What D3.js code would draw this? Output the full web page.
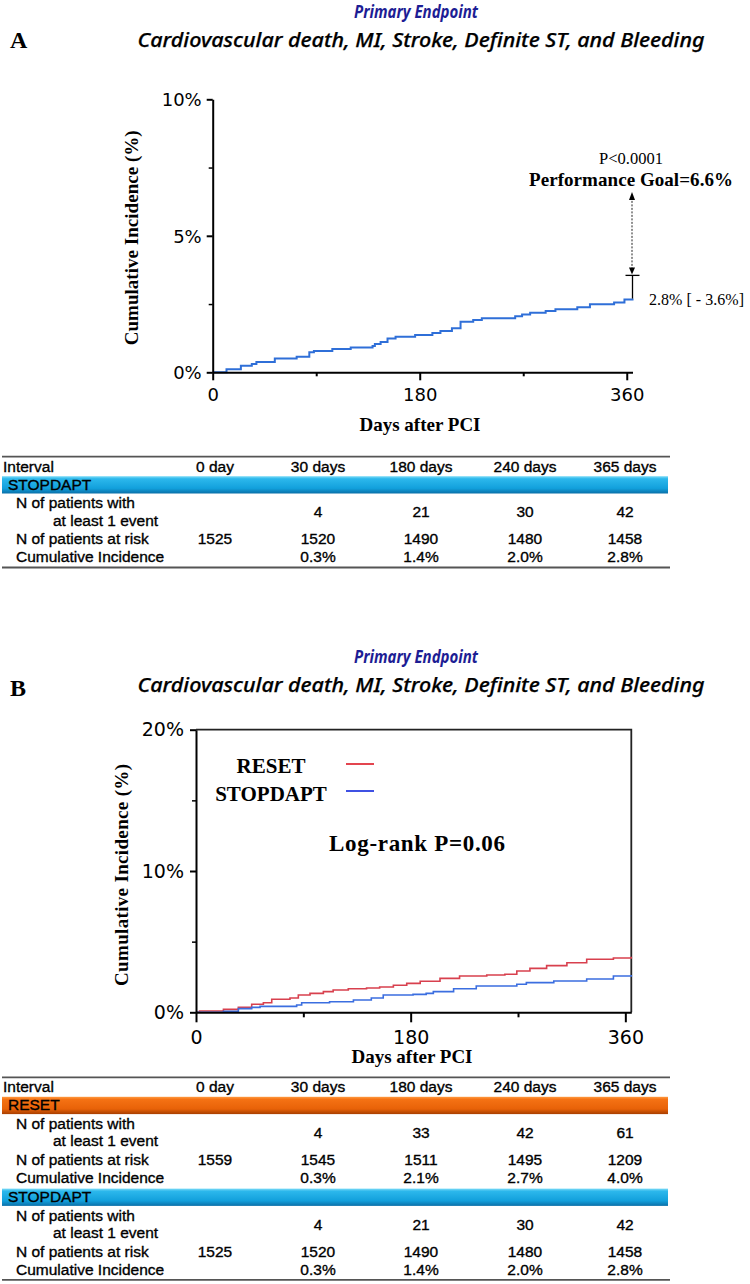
<!DOCTYPE html>
<html><head><meta charset="utf-8">
<script src="https://cdn.jsdelivr.net/npm/d3@7"></script>
<style>body{margin:0;background:#fff} svg{display:block}</style>
</head><body>
<svg id="c" width="750" height="1284" xmlns="http://www.w3.org/2000/svg"></svg>
<script>
// ---------- DATA ----------
const titleMain = "Primary Endpoint";
const titleSub = "Cardiovascular death, MI, Stroke, Definite ST, and Bleeding";

// Panel A: STOPDAPT cumulative incidence (step curve)
const daysA = [0, 12, 24.5, 34, 38, 54, 73, 84, 88, 104, 120, 139, 141, 146, 152, 159, 176, 191, 198, 208, 215.5, 226.5, 234, 263, 269, 276, 289.5, 298, 317, 328, 349, 358, 365];
const pctA  = [0, 0.11, 0.24, 0.30, 0.38, 0.51, 0.57, 0.73, 0.78, 0.85, 0.91, 0.96, 1.04, 1.11, 1.24, 1.30, 1.37, 1.44, 1.51, 1.61, 1.85, 1.92, 1.98, 2.05, 2.12, 2.18, 2.25, 2.31, 2.38, 2.49, 2.56, 2.67, 2.70];
const upperCI_A = 3.55;
const perfGoal = 6.6;

// Panel B: RESET vs STOPDAPT
const daysReset = [0, 3, 23, 35.5, 46.7, 56.5, 63.5, 78.8, 85.8, 95.6, 106.8, 115, 127.7, 143, 154, 165.5, 176.7, 188, 204.6, 221, 243.8, 259, 269, 280, 294, 311, 327.6, 350, 365];
const pctReset  = [0, 0.09, 0.21, 0.35, 0.57, 0.68, 0.92, 1.01, 1.22, 1.34, 1.46, 1.58, 1.67, 1.72, 1.79, 1.91, 2.05, 2.2, 2.4, 2.57, 2.64, 2.69, 2.92, 3.11, 3.3, 3.51, 3.75, 3.84, 3.94];
const daysStopB = [0, 23, 35.5, 46.7, 53.7, 84.4, 88.6, 112, 132, 147, 157, 182, 193, 199, 216, 235, 269, 277, 300, 327.6, 350, 365];
const pctStopB  = [0, 0.07, 0.26, 0.35, 0.42, 0.52, 0.68, 0.75, 0.87, 1.01, 1.22, 1.27, 1.34, 1.46, 1.67, 1.86, 1.98, 2.10, 2.21, 2.36, 2.57, 2.64];

const xTicks = [0, 180, 360];
const xMinorTicks = [90, 270];
const yTicksA = [0, 5, 10];
const yMinorA = [2.5, 7.5];
const yTicksB = [0, 10, 20];
const yMinorB = [5, 15];

// Tables
const tableCols = ["0 day", "30 days", "180 days", "240 days", "365 days"];
const rowLabels = ["N of patients with", "at least 1 event", "N of patients at risk", "Cumulative Incidence"];
const stopEvents = ["", "4", "21", "30", "42"];
const stopRisk   = ["1525", "1520", "1490", "1480", "1458"];
const stopCI     = ["", "0.3%", "1.4%", "2.0%", "2.8%"];
const resetEvents = ["", "4", "33", "42", "61"];
const resetRisk   = ["1559", "1545", "1511", "1495", "1209"];
const resetCI     = ["", "0.3%", "2.1%", "2.7%", "4.0%"];

// ---------- DRAW ----------
const svg = d3.select("#c");
const SERIF = "'Liberation Serif','Times New Roman',serif";
const SANS = "'Liberation Sans',Arial,sans-serif";
const TICKF = "'DejaVu Sans',Verdana,sans-serif";
const TITLEF = "'Noto Sans','Open Sans',sans-serif";

const defs = svg.append("defs");
function grad(id, stops) {
  const g = defs.append("linearGradient").attr("id", id).attr("x1", 0).attr("y1", 0).attr("x2", 0).attr("y2", 1);
  stops.forEach(s => g.append("stop").attr("offset", s[0]).attr("stop-color", s[1]));
}
grad("gBlue", [[0, "#7fdcf7"], [0.15, "#2cb8ec"], [0.7, "#12a0dc"], [1, "#0a6fa8"]]);
grad("gOrange", [[0, "#ff9a40"], [0.15, "#f57214"], [0.7, "#e86208"], [1, "#a83e00"]]);

function titles(yMain, ySub, letter, yLetter) {
  svg.append("text").attr("x", 416).attr("y", yMain).attr("text-anchor", "middle")
    .attr("font-family", TITLEF).attr("font-weight", "bold").attr("font-style", "italic")
    .attr("font-size", 18).attr("fill", "#1d1d94").attr("textLength", 124).attr("lengthAdjust", "spacingAndGlyphs")
    .text(titleMain);
  svg.append("text").attr("x", 421).attr("y", ySub).attr("text-anchor", "middle")
    .attr("font-family", TITLEF).attr("font-style", "italic").attr("font-weight", 500)
    .attr("font-size", 20.5).attr("fill", "#000").attr("stroke", "#000").attr("stroke-width", 0.25)
    .attr("textLength", 567).attr("lengthAdjust", "spacingAndGlyphs")
    .text(titleSub);
  svg.append("text").attr("x", 10).attr("y", yLetter).attr("font-family", SERIF).attr("font-weight", "bold")
    .attr("font-size", 24).text(letter);
}

function styleAxis(g, fs) {
  g.select(".domain").attr("stroke", "#000").attr("stroke-width", 2);
  g.selectAll(".tick line").attr("stroke", "#000").attr("stroke-width", 2);
  g.selectAll(".tick text").attr("font-family", TICKF).attr("font-size", fs).attr("fill", "#000");
}

const stepLine = (x, y) => d3.line().x(d => x(d[0])).y(d => y(d[1])).curve(d3.curveStepAfter);

// ----- Panel A -----
titles(18, 47, "A", 48);
const xA = d3.scaleLinear().domain([0, 365]).range([212.7, 632.5]);
const yA = d3.scaleLinear().domain([0, 10]).range([372.3, 99.3]);

svg.append("path").datum(daysA.map((d, i) => [d, pctA[i]]))
  .attr("d", stepLine(xA, yA)).attr("fill", "none").attr("stroke", "#2f6fd8").attr("stroke-width", 2);

const gxA = svg.append("g").attr("transform", `translate(0,${yA(0)})`)
  .call(d3.axisBottom(xA).tickValues(xTicks).tickSize(8).tickSizeOuter(0).tickPadding(8));
styleAxis(gxA, 18);
svg.append("g").attr("transform", `translate(0,${yA(0)})`)
  .call(d3.axisBottom(xA).tickValues(xMinorTicks).tickSize(4).tickFormat("").tickSizeOuter(0))
  .call(g => { g.select(".domain").remove(); g.selectAll("line").attr("stroke-width", 2); });
const gyA = svg.append("g").attr("transform", `translate(${xA(0)},0)`)
  .call(d3.axisLeft(yA).tickValues(yTicksA).tickSize(6).tickSizeOuter(0).tickPadding(5).tickFormat(d => d + "%"));
styleAxis(gyA, 18);
gyA.selectAll(".tick text").attr("dy", "0.36em");
svg.append("g").attr("transform", `translate(${xA(0)},0)`)
  .call(d3.axisLeft(yA).tickValues(yMinorA).tickSize(4).tickFormat("").tickSizeOuter(0))
  .call(g => { g.select(".domain").remove(); g.selectAll("line").attr("stroke-width", 1.5); });

// Axis titles A
svg.append("text").attr("transform", `translate(138,${(yA(0) + yA(10)) / 2 + 2}) rotate(-90)`)
  .attr("text-anchor", "middle").attr("font-family", SERIF).attr("font-weight", "bold").attr("font-size", 19)
  .attr("textLength", 215).attr("lengthAdjust", "spacing").text("Cumulative Incidence (%)");
svg.append("text").attr("x", 420).attr("y", 431).attr("text-anchor", "middle")
  .attr("font-family", SERIF).attr("font-weight", "bold").attr("font-size", 19).text("Days after PCI");

// Annotations A
const xEnd = xA(365);
svg.append("line").attr("x1", xEnd).attr("x2", xEnd).attr("y1", yA(pctA[pctA.length - 1])).attr("y2", yA(upperCI_A))
  .attr("stroke", "#000").attr("stroke-width", 1.3);
svg.append("line").attr("x1", xEnd - 7).attr("x2", xEnd + 7).attr("y1", yA(upperCI_A)).attr("y2", yA(upperCI_A))
  .attr("stroke", "#000").attr("stroke-width", 1.3);
svg.append("line").attr("x1", xEnd - 0.5).attr("x2", xEnd - 0.5).attr("y1", yA(upperCI_A) - 6).attr("y2", yA(perfGoal) + 8)
  .attr("stroke", "#222").attr("stroke-width", 1).attr("stroke-dasharray", "2,1.5");
const ax = xEnd - 0.5;
svg.append("path").attr("d", `M${ax},${yA(perfGoal)} l-3,8 l6,0 z`).attr("fill", "#000");
svg.append("path").attr("d", `M${ax},${yA(upperCI_A) - 1} l-3,-7 l6,0 z`).attr("fill", "#000");
svg.append("text").attr("x", 631).attr("y", 164).attr("text-anchor", "middle")
  .attr("font-family", SERIF).attr("font-size", 16.5).text("P<0.0001");
svg.append("text").attr("x", 529).attr("y", 186).attr("font-family", SERIF).attr("font-weight", "bold")
  .attr("font-size", 19).attr("textLength", 204).attr("lengthAdjust", "spacing").text("Performance Goal=6.6%");
svg.append("text").attr("x", 649).attr("y", 305).attr("font-family", SERIF).attr("font-size", 16)
  .attr("textLength", 95).attr("lengthAdjust", "spacing").text("2.8% [ - 3.6%]");

// ----- Tables -----
const colX = [215, 318, 421, 525, 625];
function drawTable(top, sections) {
  const L = 2, R = 670;
  svg.append("line").attr("x1", L).attr("x2", R).attr("y1", top).attr("y2", top).attr("stroke", "#555").attr("stroke-width", 1.8);
  const tf = (sel) => sel.attr("font-family", SANS).attr("font-size", 15.5).attr("fill", "#000")
    .attr("stroke", "#000").attr("stroke-width", 0.35);
  tf(svg.append("text").attr("x", 3).attr("y", top + 15).text("Interval"));
  tableCols.forEach((c, i) => tf(svg.append("text").attr("x", colX[i]).attr("y", top + 15).attr("text-anchor", "middle").text(c)));
  let y0 = top + 19.5;
  sections.forEach((s, si) => {
    svg.append("rect").attr("x", L).attr("y", y0).attr("width", R - L - 2).attr("height", 17.3).attr("fill", `url(#${s.grad})`);
    tf(svg.append("text").attr("x", 8).attr("y", y0 + 13.5).text(s.name));
    tf(svg.append("text").attr("x", 16).attr("y", y0 + 32).text(rowLabels[0]));
    tf(svg.append("text").attr("x", 53).attr("y", y0 + 49.5).text(rowLabels[1]));
    tf(svg.append("text").attr("x", 16).attr("y", y0 + 68).text(rowLabels[2]));
    tf(svg.append("text").attr("x", 16).attr("y", y0 + 86).text(rowLabels[3]));
    s.events.forEach((v, i) => tf(svg.append("text").attr("x", colX[i]).attr("y", y0 + 41).attr("text-anchor", "middle").text(v)));
    s.risk.forEach((v, i) => tf(svg.append("text").attr("x", colX[i]).attr("y", y0 + 68).attr("text-anchor", "middle").text(v)));
    s.ci.forEach((v, i) => tf(svg.append("text").attr("x", colX[i]).attr("y", y0 + 86).attr("text-anchor", "middle").text(v)));
    if (si === sections.length - 1) {
      svg.append("line").attr("x1", L).attr("x2", R).attr("y1", y0 + 91.3).attr("y2", y0 + 91.3).attr("stroke", "#555").attr("stroke-width", 1.8);
    }
    y0 += 91.8;
  });
}
const stopSection = { name: "STOPDAPT", grad: "gBlue", events: stopEvents, risk: stopRisk, ci: stopCI };
const resetSection = { name: "RESET", grad: "gOrange", events: resetEvents, risk: resetRisk, ci: resetCI };
drawTable(456.7, [stopSection]);

// ----- Panel B -----
titles(663, 692, "B", 696);
const xB = d3.scaleLinear().domain([0, 365]).range([196, 631.3]);
const yB = d3.scaleLinear().domain([0, 20]).range([1012.3, 729.7]);

svg.append("path").attr("d", `M${xB(0)},${yB(20)} H${xB(365)} V${yB(0)}`).attr("fill", "none").attr("stroke", "#222").attr("stroke-width", 1.8);

svg.append("path").datum(daysReset.map((d, i) => [d, pctReset[i]]))
  .attr("d", stepLine(xB, yB)).attr("fill", "none").attr("stroke", "#d8404e").attr("stroke-width", 1.6);
svg.append("path").datum(daysStopB.map((d, i) => [d, pctStopB[i]]))
  .attr("d", stepLine(xB, yB)).attr("fill", "none").attr("stroke", "#3b6ee0").attr("stroke-width", 1.6);

const gxB = svg.append("g").attr("transform", `translate(0,${yB(0)})`)
  .call(d3.axisBottom(xB).tickValues(xTicks).tickSize(10).tickSizeOuter(0).tickPadding(8));
styleAxis(gxB, 19);
svg.append("g").attr("transform", `translate(0,${yB(0)})`)
  .call(d3.axisBottom(xB).tickValues(xMinorTicks).tickSize(5).tickFormat("").tickSizeOuter(0))
  .call(g => { g.select(".domain").remove(); g.selectAll("line").attr("stroke-width", 2); });
const gyB = svg.append("g").attr("transform", `translate(${xB(0)},0)`)
  .call(d3.axisLeft(yB).tickValues(yTicksB).tickSize(6).tickSizeOuter(0).tickPadding(6).tickFormat(d => d + "%"));
styleAxis(gyB, 19);
svg.append("g").attr("transform", `translate(${xB(0)},0)`)
  .call(d3.axisLeft(yB).tickValues(yMinorB).tickSize(4).tickFormat("").tickSizeOuter(0))
  .call(g => { g.select(".domain").remove(); g.selectAll("line").attr("stroke-width", 1.5); });

svg.append("text").attr("transform", `translate(128,${(yB(0) + yB(20)) / 2 + 4}) rotate(-90)`)
  .attr("text-anchor", "middle").attr("font-family", SERIF).attr("font-weight", "bold").attr("font-size", 19)
  .attr("textLength", 222).attr("lengthAdjust", "spacing").text("Cumulative Incidence (%)");
svg.append("text").attr("x", 412).attr("y", 1063).attr("text-anchor", "middle")
  .attr("font-family", SERIF).attr("font-weight", "bold").attr("font-size", 19).text("Days after PCI");

// legend
const legend = [{ name: "RESET", color: "#e0303c", y: 772.7, ly: 764 }, { name: "STOPDAPT", color: "#2a3ee0", y: 800.7, ly: 791 }];
legend.forEach(l => {
  svg.append("text").attr("x", 271).attr("y", l.y).attr("text-anchor", "middle").attr("font-family", SERIF)
    .attr("font-weight", "bold").attr("font-size", 21).text(l.name);
  svg.append("line").attr("x1", 346).attr("x2", 374).attr("y1", l.ly).attr("y2", l.ly).attr("stroke", l.color).attr("stroke-width", 1.8);
});
svg.append("text").attr("x", 329).attr("y", 851).attr("font-family", SERIF).attr("font-weight", "bold")
  .attr("font-size", 23).attr("textLength", 176).attr("lengthAdjust", "spacing").text("Log-rank P=0.06");

drawTable(1077.3, [resetSection, stopSection]);
</script>
</body></html>
